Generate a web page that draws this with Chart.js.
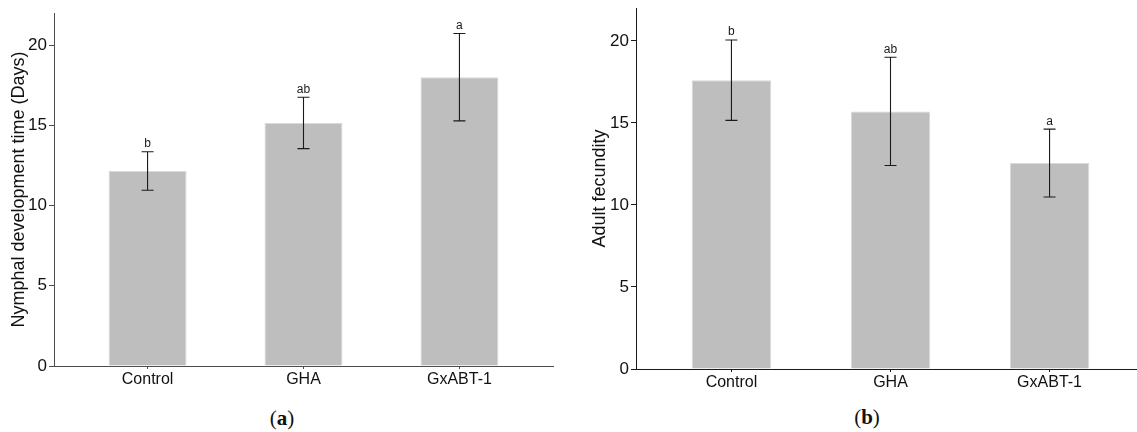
<!DOCTYPE html>
<html>
<head>
<meta charset="utf-8">
<script src="https://cdn.jsdelivr.net/npm/chart.js@4/dist/chart.umd.min.js"></script>
<style>
  html, body { margin: 0; padding: 0; background: #fff; overflow: hidden; width: 1137px; height: 432px; }
  canvas { position: absolute; top: 0; }
  #chartA { left: 0; }
  #chartB { left: 570px; }
  .cap { position: absolute; font-family: "Liberation Serif", "Times New Roman", serif; font-size: 21px; color: #111; transform: translate(-50%, -50%); }
  .cap b { font-weight: bold; }
</style>
</head>
<body>
<canvas id="chartA" width="560" height="400"></canvas>
<canvas id="chartB" width="580" height="400"></canvas>
<div class="cap" style="left:282px; top:418px;">(<b>a</b>)</div>
<div class="cap" style="left:867px; top:417px;">(<b>b</b>)</div>
<script>
// 1. DATA
const groups = ['Control', 'GHA', 'GxABT-1'];

// (a) nymphal development time
const devMeans = [12.15, 15.15, 18.0];
const devErr = [1.2, 1.6, 2.72];
const devLetters = ['b', 'ab', 'a'];

// (b) adult fecundity
const fecMeans = [17.6, 15.7, 12.55];
const fecErr = [2.45, 3.3, 2.07];
const fecLetters = ['b', 'ab', 'a'];

const yTicks = [0, 5, 10, 15, 20];

// 2. HELPERS
const FONT = "'Liberation Sans', Arial, sans-serif";

// error bars + significance letters, drawn through the chart scales
function errorBars(means, errs, letters) {
    return {
        id: 'errorBars',
        afterDatasetsDraw(chart) {
            const { ctx, scales: { x, y } } = chart;
            ctx.save();
            ctx.strokeStyle = '#1a1a1a';
            ctx.lineWidth = 1.1;
            ctx.fillStyle = '#1a1a1a';
            ctx.font = '12px ' + FONT;
            ctx.textAlign = 'center';
            ctx.textBaseline = 'alphabetic';
            means.forEach((m, i) => {
                const px = x.getPixelForValue(i + 1);
                const top = y.getPixelForValue(m + errs[i]);
                const bot = y.getPixelForValue(m - errs[i]);
                const cap = 6;
                ctx.beginPath();
                ctx.moveTo(px, top); ctx.lineTo(px, bot);
                ctx.moveTo(px - cap, top); ctx.lineTo(px + cap, top);
                ctx.moveTo(px - cap, bot); ctx.lineTo(px + cap, bot);
                ctx.stroke();
                ctx.fillText(letters[i], px, top - 4.5);
            });
            ctx.restore();
        }
    };
}

function makeChart(id, means, errs, letters, title, axisColor, cfg) {
    const ctx = document.getElementById(id).getContext('2d');
    return new Chart(ctx, {
        type: 'bar',
        data: {
            datasets: [{
                data: means.map((v, i) => ({ x: i + 1, y: v })),
                backgroundColor: '#bebebe',
                borderColor: '#d9d9d9',
                borderWidth: 1,
                categoryPercentage: 1,
                barPercentage: 0.5
            }]
        },
        options: {
            responsive: false,
            animation: false,
            layout: { padding: cfg.padding },
            plugins: { legend: { display: false }, tooltip: { enabled: false } },
            scales: {
                x: {
                    type: 'linear',
                    min: 0.4, max: 3.6,
                    offset: false,
                    afterBuildTicks: s => { s.ticks = groups.map((g, i) => ({ value: i + 1 })); },
                    afterFit: s => { s.height = cfg.xHeight; s.paddingLeft = 0; s.paddingRight = 0; },
                    grid: { display: true, offset: false, drawOnChartArea: false, drawTicks: true, tickLength: 3, tickColor: axisColor },
                    border: { display: true, color: axisColor, width: 1 },
                    ticks: {
                        autoSkip: false, maxRotation: 0, padding: 1, color: '#111',
                        font: { family: FONT, size: 16 },
                        callback: v => groups[v - 1] || ''
                    }
                },
                y: {
                    min: 0, max: 22,
                    afterBuildTicks: s => { s.ticks = yTicks.map(v => ({ value: v })); },
                    afterFit: s => { s.width = cfg.yWidth; s.paddingTop = 0; s.paddingBottom = 0; },
                    grid: { display: true, drawOnChartArea: false, drawTicks: true, tickLength: 5, tickColor: axisColor },
                    border: { display: true, color: axisColor, width: 1 },
                    ticks: { padding: 2, color: '#111', font: { family: FONT, size: 17 } },
                    title: {
                        display: true, text: title, color: '#111',
                        font: { family: FONT, size: 18 },
                        padding: { top: cfg.titlePad, bottom: 0 }
                    }
                }
            }
        },
        plugins: [errorBars(means, errs, letters)]
    });
}

// 3. CHARTS
makeChart('chartA', devMeans, devErr, devLetters, 'Nymphal development time (Days)', '#4d4d4d',
    { padding: { left: 0, right: 7, top: 13, bottom: 0 }, xHeight: 34, yWidth: 54, titlePad: 8 });

makeChart('chartB', fecMeans, fecErr, fecLetters, 'Adult fecundity', '#1a1a1a',
    { padding: { left: 0, right: 5, top: 8, bottom: 0 }, xHeight: 31, yWidth: 66, titlePad: 19 });
</script>
</body>
</html>
